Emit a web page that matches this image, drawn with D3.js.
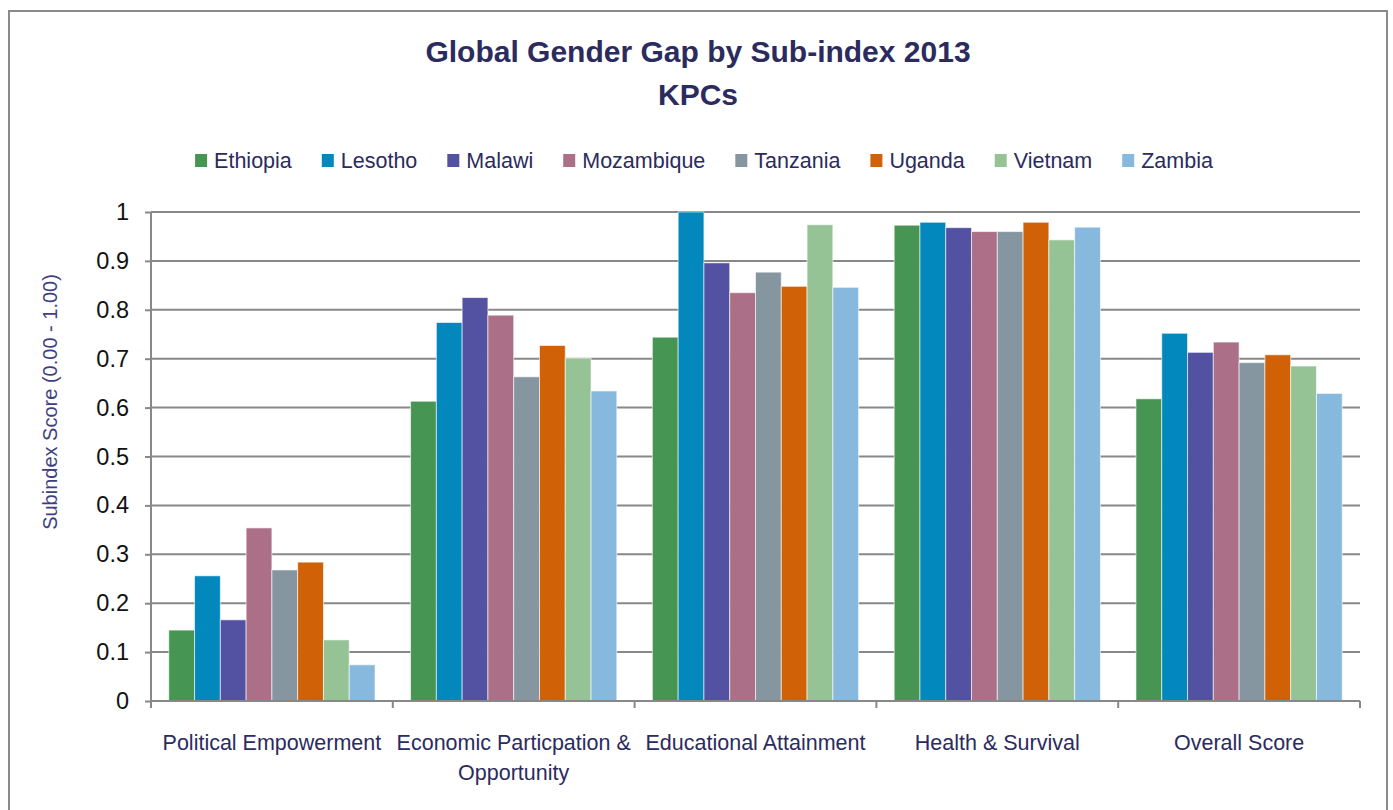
<!DOCTYPE html>
<html>
<head>
<meta charset="utf-8">
<script src="https://cdn.jsdelivr.net/npm/d3@7"></script>
<style>
  body { margin: 0; background: #fff; }
  svg { display: block; font-family: 'Liberation Sans', Arial, sans-serif; }
  .grid line { stroke: #888; stroke-width: 2; }
  .axis path, .axis line { stroke: #888; stroke-width: 2; }
</style>
</head>
<body>
<div class="chart"></div>
<script>
'use strict';

var categories = ['Political Empowerment', 'Economic Particpation & Opportunity', 'Educational Attainment', 'Health & Survival', 'Overall Score'];
var countries = ['Ethiopia', 'Lesotho', 'Malawi', 'Mozambique', 'Tanzania', 'Uganda', 'Vietnam', 'Zambia'];
var colors = ['#469553', '#0288BC', '#5351A2', '#AB6F87', '#8696A0', '#D06107', '#95C396', '#87B9DF'];

var ethiopia   = [0.145, 0.613, 0.744, 0.973, 0.618];
var lesotho    = [0.256, 0.774, 1.000, 0.979, 0.752];
var malawi     = [0.166, 0.825, 0.896, 0.968, 0.713];
var mozambique = [0.354, 0.789, 0.835, 0.960, 0.734];
var tanzania   = [0.268, 0.663, 0.877, 0.960, 0.692];
var uganda     = [0.284, 0.727, 0.848, 0.979, 0.708];
var vietnam    = [0.125, 0.701, 0.974, 0.943, 0.685];
var zambia     = [0.074, 0.634, 0.846, 0.969, 0.629];

var yTicks = [0, 0.1, 0.2, 0.3, 0.4, 0.5, 0.6, 0.7, 0.8, 0.9, 1];

var series = [ethiopia, lesotho, malawi, mozambique, tanzania, uganda, vietnam, zambia];

var W = 1393, H = 810;
var margin = { top: 212, left: 151, right: 33, bottom: 109 };
var width = W - margin.left - margin.right;
var height = H - margin.top - margin.bottom;
var TEXT_NAVY = '#2B2B5E';

var svg = d3.select('.chart').append('svg')
    .attr('width', W)
    .attr('height', H);

// outer frame
svg.append('rect')
    .attr('x', 9).attr('y', 11)
    .attr('width', 1378).attr('height', 820)
    .attr('fill', 'none')
    .attr('stroke', '#8a8a8a')
    .attr('stroke-width', 2);

// title
var title = svg.append('text')
    .attr('text-anchor', 'middle')
    .attr('fill', TEXT_NAVY)
    .style('font-size', '30px')
    .style('font-weight', 'bold');
title.append('tspan').attr('x', 698).attr('y', 62).text('Global Gender Gap by Sub-index 2013');
title.append('tspan').attr('x', 698).attr('y', 105).text('KPCs');

// scales
var x0 = d3.scaleBand()
    .domain(categories)
    .range([0, width])
    .paddingInner(0.147)
    .paddingOuter(0.0735);

var x1 = d3.scaleBand()
    .domain(countries)
    .range([0, x0.bandwidth()])
    .padding(0);

var y = d3.scaleLinear()
    .domain([0, 1])
    .range([height, 0]);

var z = d3.scaleOrdinal()
    .domain(countries)
    .range(colors);

var g = svg.append('g')
    .attr('transform', 'translate(' + margin.left + ',' + margin.top + ')');

// gridlines
g.append('g')
    .attr('class', 'grid')
    .selectAll('line')
    .data(yTicks.slice(1))
    .enter().append('line')
      .attr('x1', 0)
      .attr('x2', width)
      .attr('y1', function(d) { return y(d); })
      .attr('y2', function(d) { return y(d); });

// bars
g.append('g')
    .selectAll('g')
    .data(categories)
    .enter().append('g')
      .attr('transform', function(d) { return 'translate(' + x0(d) + ',0)'; })
    .selectAll('rect')
    .data(function(d, i) { return countries.map(function(c, j) { return { key: c, value: series[j][i] }; }); })
    .enter().append('rect')
      .attr('x', function(d) { return x1(d.key); })
      .attr('y', function(d) { return y(d.value); })
      .attr('width', x1.bandwidth())
      .attr('height', function(d) { return height - y(d.value); })
      .attr('fill', function(d) { return z(d.key); })
      .attr('stroke', 'rgba(255,255,255,0.6)')
      .attr('stroke-width', 1);

// y axis
var yAxis = d3.axisLeft(y)
    .tickValues(yTicks)
    .tickSize(6)
    .tickPadding(16)
    .tickFormat(function(d) { return d3.format('')(+d.toFixed(1)); });

g.append('g')
    .attr('class', 'axis axis--y')
    .call(yAxis)
    .call(function(s) { s.select('.domain').attr('d', 'M0,0V' + (height + 6)); })
    .selectAll('text')
      .attr('fill', '#111')
      .style('font-size', '23.5px');

// x axis: plain baseline with ticks at category boundaries
var xAxisG = g.append('g')
    .attr('class', 'axis axis--x')
    .attr('transform', 'translate(0,' + height + ')');

xAxisG.append('line')
    .attr('x1', 0).attr('x2', width)
    .attr('y1', 0).attr('y2', 0);

xAxisG.selectAll('.tick')
    .data(d3.range(categories.length + 1))
    .enter().append('line')
      .attr('class', 'tick')
      .attr('x1', function(i) { return i * x0.step(); })
      .attr('x2', function(i) { return i * x0.step(); })
      .attr('y1', 0)
      .attr('y2', 7);

var catLabels = {
  'Political Empowerment': ['Political Empowerment'],
  'Economic Particpation & Opportunity': ['Economic Particpation &', 'Opportunity'],
  'Educational Attainment': ['Educational Attainment'],
  'Health & Survival': ['Health & Survival'],
  'Overall Score': ['Overall Score']
};

xAxisG.selectAll('.cat')
    .data(categories)
    .enter().append('text')
      .attr('class', 'cat')
      .attr('text-anchor', 'middle')
      .attr('fill', TEXT_NAVY)
      .style('font-size', '21.5px')
      .each(function(d) {
        var t = d3.select(this);
        catLabels[d].forEach(function(line, k) {
          t.append('tspan')
              .attr('x', x0(d) + x0.bandwidth() / 2)
              .attr('y', 49 + k * 30)
              .text(line);
        });
      });

// y axis title
svg.append('text')
    .attr('transform', 'translate(57,402) rotate(-90)')
    .attr('text-anchor', 'middle')
    .attr('fill', '#3E3E82')
    .style('font-size', '20px')
    .text('Subindex Score (0.00 - 1.00)');

// legend
var legend = svg.append('g').attr('class', 'legend');
var item = legend.selectAll('g')
    .data(countries)
    .enter().append('g');

item.append('rect')
    .attr('width', 12)
    .attr('height', 13)
    .attr('y', 154)
    .attr('fill', function(d) { return z(d); });

item.append('text')
    .attr('x', 19)
    .attr('y', 168)
    .attr('fill', TEXT_NAVY)
    .style('font-size', '21.5px')
    .text(function(d) { return d; });

var pos = 0;
item.each(function() {
  var w = d3.select(this).select('text').node().getComputedTextLength();
  d3.select(this).attr('transform', 'translate(' + pos + ',0)');
  pos += 19 + w + 30;
});
pos -= 30;
legend.attr('transform', 'translate(' + (704 - pos / 2) + ',0)');
</script>
</body>
</html>
